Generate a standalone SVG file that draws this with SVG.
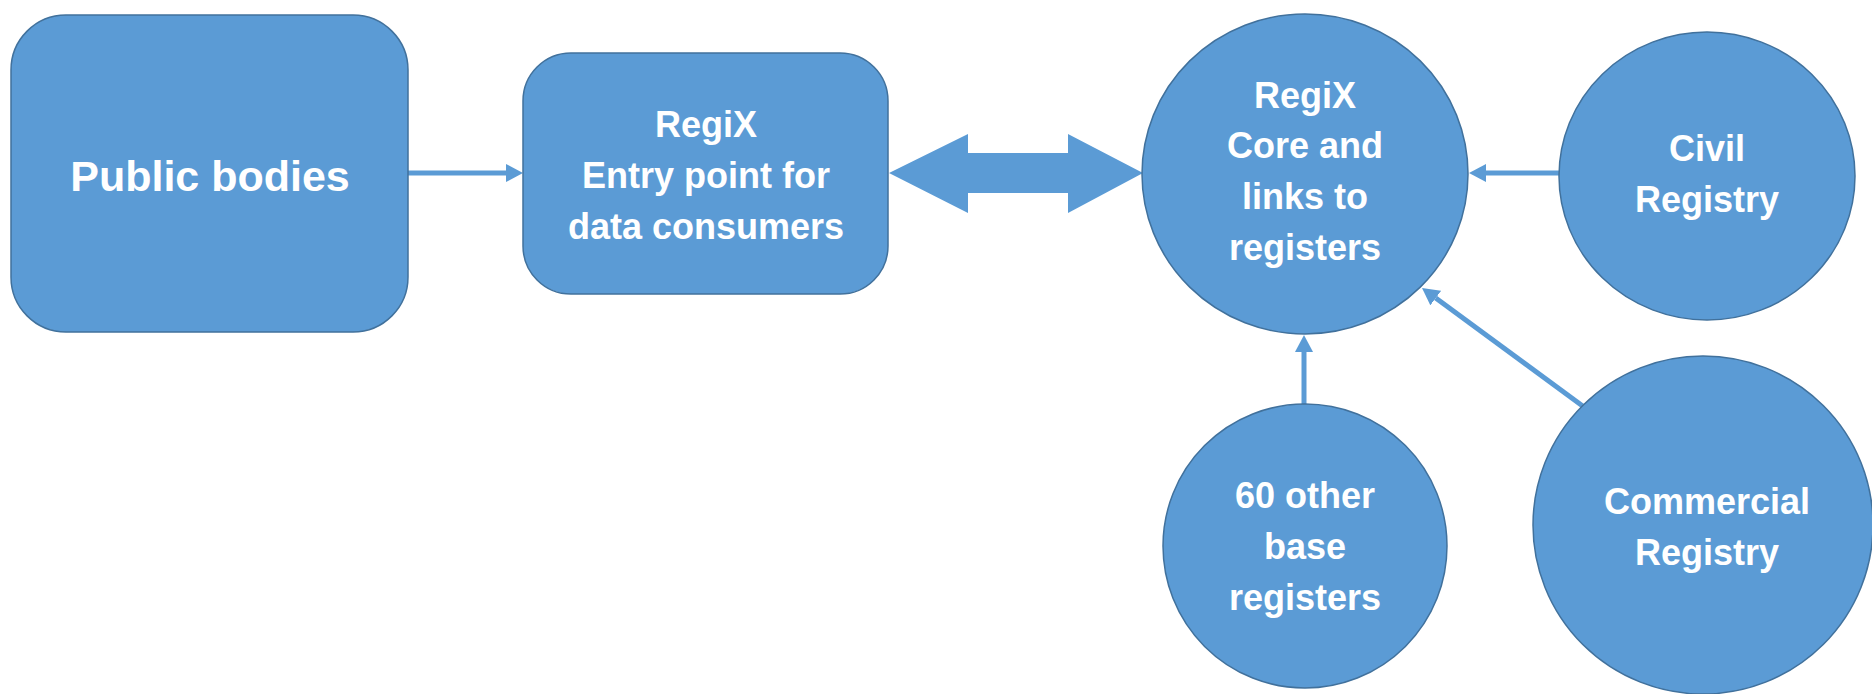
<svg xmlns="http://www.w3.org/2000/svg" width="1872" height="694" viewBox="0 0 1872 694">
<style>
.node{fill:#5B9BD5;stroke:#41719C;stroke-width:1.5}
.lbl{font-family:"Liberation Sans",Arial,sans-serif;font-weight:bold;fill:#FFFFFF;text-anchor:middle;font-size:36px}
.big{font-size:43px}
.conn{stroke:#5B9BD5;stroke-width:5;fill:none}
</style>
<defs>
<marker id="ah" viewBox="0 0 17 18" refX="0" refY="9" markerWidth="17" markerHeight="18" markerUnits="userSpaceOnUse" orient="auto">
<path d="M0,0 L17,9 L0,18 z" fill="#5B9BD5"/>
</marker>
</defs>
<rect width="1872" height="694" fill="#FFFFFF"/>
<g id="connectors">
<path class="conn" d="M408,173 L506,173" marker-end="url(#ah)"/>
<polygon points="889,173 968,134 968,153 1068,153 1068,134 1143,173 1068,213 1068,193 968,193 968,213" fill="#5B9BD5"/>
<path class="conn" d="M1559,173 L1486,173" marker-end="url(#ah)"/>
<path class="conn" d="M1304,404 L1304,352" marker-end="url(#ah)"/>
<path class="conn" d="M1584,407 L1435.7,298.1" marker-end="url(#ah)"/>
</g>
<g id="public-bodies">
<rect class="node" x="11" y="15" width="397" height="317" rx="55" ry="55"/>
<text class="lbl big" x="210" y="191">Public bodies</text>
</g>
<g id="entry-point">
<rect class="node" x="523" y="53" width="365" height="241" rx="48" ry="48"/>
<text class="lbl" x="706" y="137">RegiX</text>
<text class="lbl" x="706" y="188">Entry point for</text>
<text class="lbl" x="706" y="239">data consumers</text>
</g>
<g id="core">
<ellipse class="node" cx="1305" cy="174" rx="163" ry="160"/>
<text class="lbl" x="1305" y="108">RegiX</text>
<text class="lbl" x="1305" y="158">Core and</text>
<text class="lbl" x="1305" y="209">links to</text>
<text class="lbl" x="1305" y="260">registers</text>
</g>
<g id="civil-registry">
<ellipse class="node" cx="1707" cy="176" rx="148" ry="144"/>
<text class="lbl" x="1707" y="161">Civil</text>
<text class="lbl" x="1707" y="212">Registry</text>
</g>
<g id="other-registers">
<circle class="node" cx="1305" cy="546" r="142"/>
<text class="lbl" x="1305" y="508">60 other</text>
<text class="lbl" x="1305" y="559">base</text>
<text class="lbl" x="1305" y="610">registers</text>
</g>
<g id="commercial-registry">
<ellipse class="node" cx="1703" cy="525" rx="170" ry="169"/>
<text class="lbl" x="1707" y="514">Commercial</text>
<text class="lbl" x="1707" y="565">Registry</text>
</g>
</svg>
